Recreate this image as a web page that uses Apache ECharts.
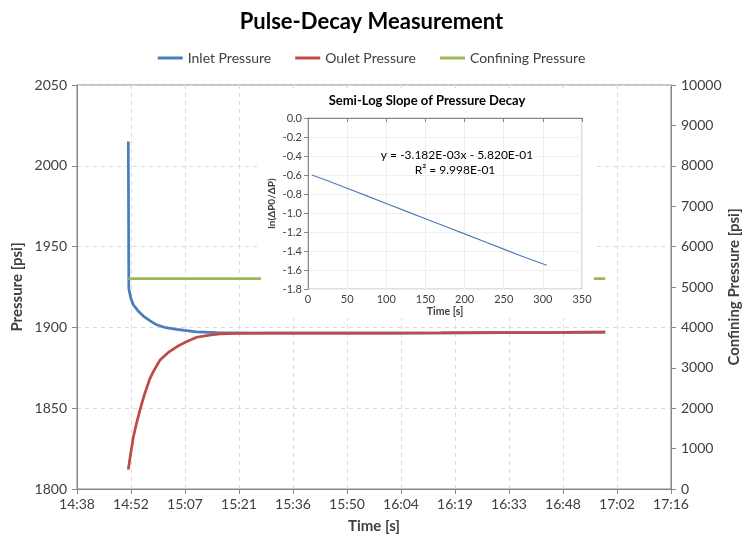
<!DOCTYPE html>
<html>
<head>
<meta charset="utf-8">
<script src="https://cdn.jsdelivr.net/npm/echarts@6/dist/echarts.min.js"></script>
<style>
html,body{margin:0;padding:0;background:#fff;}
#chart{width:743px;height:538px;}
</style>
</head>
<body>
<div id="chart"></div>
<script>
// ---- data ----
const xTickLabels = ['14:38','14:52','15:07','15:21','15:36','15:50','16:04','16:19','16:33','16:48','17:02','17:16'];
const pulseStart = '14:52:05';               // clock time of the pulse
const inletT  = [0, 8, 40, 80, 150, 240, 350, 454, 600, 774, 900, 1094, 1414, 2000, 3000, 4000, 5000, 6000, 7000, 7630]; // s after start
const inletP  = [2015, 1924, 1918, 1914, 1910.5, 1907, 1904, 1901.6, 1899.8, 1898.8, 1898.1, 1897.3, 1896.7, 1896.5, 1896.4, 1896.5, 1896.6, 1896.8, 1896.9, 1897.0];
const outletT = [0, 30, 80, 130, 187, 250, 347, 400, 507, 640, 774, 900, 1094, 1300, 1467, 1734, 2200, 3000, 4000, 5000, 6000, 7000, 7630];
const outletP = [1812, 1820, 1832, 1840.5, 1849, 1857.5, 1868.5, 1872.6, 1879.8, 1884.5, 1888, 1890.6, 1893.9, 1895.2, 1896, 1896.3, 1896.4, 1896.4, 1896.5, 1896.6, 1896.8, 1896.9, 1897.0];
const confT = [0, 1000, 2000, 3000, 4000, 5000, 6000, 7000, 7630];
const confP = [5210, 5210, 5210, 5210, 5210, 5210, 5210, 5210, 5210];
// inset: semi-log slope
const slopeT = [5, 25, 50, 75, 100, 125, 150, 175, 200, 225, 250, 275, 305];
const slopeY = [-0.60, -0.66, -0.74, -0.82, -0.90, -0.98, -1.06, -1.14, -1.22, -1.30, -1.38, -1.46, -1.55];
const fitText = 'y = -3.182E-03x - 5.820E-01';
const r2Text = 'R² = 9.998E-01';

// x axis unit: 1/100 day (Excel date serial * 100)
function clockToUnit(s){const p=s.split(':').map(Number);return (p[0]*3600+p[1]*60+p[2])/864;}
const x0 = clockToUnit(pulseStart);
const pairs = (T,V)=>T.map((t,i)=>[x0 + t/864, V[i]]);

const FONT = 'Lato, "Open Sans", sans-serif';
const LBL = '#404040';
const plain = v => String(v);
const chart = echarts.init(document.getElementById('chart'));
chart.setOption({
  animation:false,
  backgroundColor:'#fff',
  textStyle:{fontFamily:FONT},
  title:{text:'Pulse-Decay Measurement',left:'center',top:6,
    textStyle:{fontFamily:FONT,fontSize:22,fontWeight:'bold',color:'#000'}},
  legend:{top:46,left:'center',icon:'rect',itemWidth:25,itemHeight:3,itemGap:24,
    textStyle:{fontFamily:FONT,fontSize:14,color:LBL},
    data:['Inlet Pressure','Oulet Pressure','Confining Pressure']},
  grid:[
    {left:77,right:72,top:85,bottom:49,show:true,borderColor:'#868686',borderWidth:1,backgroundColor:'transparent',
      containLabel:false,outerBoundsMode:'none'},
    {left:308,top:118,width:274,height:171,show:true,borderColor:'#bfbfbf',borderWidth:1,z:101,backgroundColor:'#fff',
      containLabel:false,outerBoundsMode:'none'}
  ],
  xAxis:[
    {type:'value',gridIndex:0,min:61,max:72,interval:1,
      name:'Time [s]',nameLocation:'middle',nameGap:30,
      nameTextStyle:{fontFamily:FONT,fontSize:15,fontWeight:'bold',color:LBL},
      axisLine:{lineStyle:{color:'#868686'}},
      axisTick:{show:true,length:5,lineStyle:{color:'#868686'}},
      axisLabel:{fontFamily:FONT,fontSize:14,color:LBL,margin:8,formatter:v=>xTickLabels[Math.round(v-61)]},
      splitLine:{show:true,lineStyle:{color:'#d9d9d9',type:[4,4]}}},
    {type:'value',gridIndex:1,min:0,max:350,interval:50,z:102,
      name:'Time [s]',nameLocation:'middle',nameGap:17,
      nameTextStyle:{fontFamily:FONT,fontSize:10.5,fontWeight:'bold',color:LBL},
      axisLine:{lineStyle:{color:'#868686'}},
      axisTick:{show:true,length:4,lineStyle:{color:'#868686'}},
      axisLabel:{fontFamily:FONT,fontSize:11,color:LBL,margin:5},
      splitLine:{show:true,lineStyle:{color:'#efefef'}}}
  ],
  yAxis:[
    {type:'value',gridIndex:0,min:1800,max:2050,interval:50,position:'left',
      name:'Pressure [psi]',nameLocation:'middle',nameGap:52,nameRotate:90,nameMoveOverlap:false,
      nameTextStyle:{fontFamily:FONT,fontSize:15,fontWeight:'bold',color:LBL},
      axisLine:{show:true,lineStyle:{color:'#868686'}},
      axisTick:{show:true,length:5,lineStyle:{color:'#868686'}},
      axisLabel:{fontFamily:FONT,fontSize:14,color:LBL,margin:10,formatter:plain},
      splitLine:{show:true,lineStyle:{color:'#d9d9d9',type:[4,4]}}},
    {type:'value',gridIndex:0,min:0,max:10000,interval:1000,position:'right',
      name:'Confining Pressure [psi]',nameLocation:'middle',nameGap:56,nameRotate:90,nameMoveOverlap:false,
      nameTextStyle:{fontFamily:FONT,fontSize:15,fontWeight:'bold',color:LBL},
      axisLine:{show:true,lineStyle:{color:'#868686'}},
      axisTick:{show:true,length:5,lineStyle:{color:'#868686'}},
      axisLabel:{fontFamily:FONT,fontSize:14,color:LBL,margin:10,formatter:plain},
      splitLine:{show:false}},
    {type:'value',gridIndex:1,min:-1.8,max:0,interval:0.2,z:102,
      name:'ln(ΔP0/ΔP)',nameLocation:'middle',nameGap:31,nameRotate:90,nameMoveOverlap:false,
      nameTextStyle:{fontFamily:FONT,fontSize:10,fontWeight:'bold',color:LBL},
      axisLine:{show:true,lineStyle:{color:'#868686'}},
      axisTick:{show:true,length:4,lineStyle:{color:'#868686'}},
      axisLabel:{fontFamily:FONT,fontSize:11,color:LBL,margin:6,formatter:v=>v.toFixed(1)},
      splitLine:{show:true,lineStyle:{color:'#efefef'}}}
  ],
  graphic:{elements:[
    {type:'rect',z:100,silent:true,shape:{x:261,y:88,width:333,height:230},style:{fill:'#fff'}},
    {type:'text',z:103,style:{text:'Semi-Log Slope of Pressure Decay',x:427,y:101,align:'center',verticalAlign:'middle',font:'bold 13px '+FONT,fill:'#000'}},
    {type:'text',z:103,style:{text:fitText,x:457,y:155,align:'center',verticalAlign:'middle',font:'12px '+FONT,fill:'#000'}},
    {type:'text',z:103,style:{text:r2Text,x:455,y:170,align:'center',verticalAlign:'middle',font:'12px '+FONT,fill:'#000'}}
  ]},
  series:[
    {name:'Inlet Pressure',type:'line',xAxisIndex:0,yAxisIndex:0,data:pairs(inletT,inletP),
      symbol:'none',lineStyle:{color:'#4a7ebb',width:2.75},itemStyle:{color:'#4a7ebb'},z:3},
    {name:'Oulet Pressure',type:'line',xAxisIndex:0,yAxisIndex:0,data:pairs(outletT,outletP),
      symbol:'none',lineStyle:{color:'#be4b48',width:2.75},itemStyle:{color:'#be4b48'},z:4},
    {name:'Confining Pressure',type:'line',xAxisIndex:0,yAxisIndex:1,data:pairs(confT,confP),
      symbol:'none',lineStyle:{color:'#98b954',width:2.75},itemStyle:{color:'#98b954'},z:5},
    {name:'slope',type:'line',xAxisIndex:1,yAxisIndex:2,data:slopeT.map((t,i)=>[t,slopeY[i]]),
      symbol:'none',lineStyle:{color:'#4a7ebb',width:1.2},z:104}
  ]
});
</script>
</body>
</html>
